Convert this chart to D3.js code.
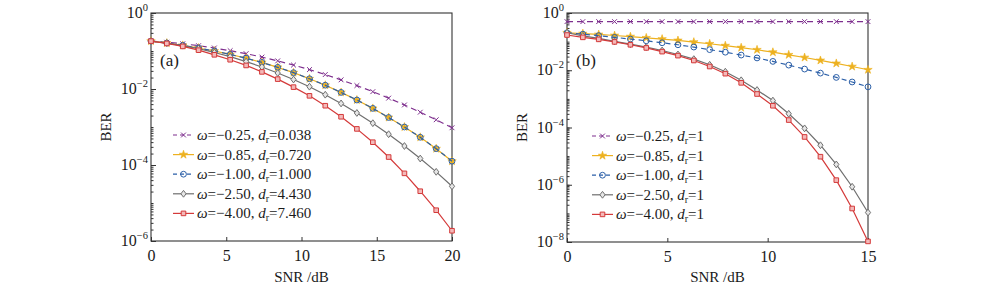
<!DOCTYPE html>
<html>
<head>
<meta charset="utf-8">
<script src="https://cdn.jsdelivr.net/npm/d3@7"></script>
<style>
  body { margin: 0; background: #fff; }
  text { font-family: "Liberation Serif", "Times New Roman", serif; fill: #1a1a1a; }
</style>
</head>
<body>
<script>
// SNR sample points (dB)
const snrA = [0, 1.05, 2.11, 3.16, 4.21, 5.26, 6.32, 7.37, 8.42, 9.47, 10.53, 11.58, 12.63, 13.68, 14.74, 15.79, 16.84, 17.89, 18.95, 20];
const snrB = [0, 0.79, 1.58, 2.37, 3.16, 3.95, 4.74, 5.53, 6.32, 7.11, 7.89, 8.68, 9.47, 10.26, 11.05, 11.84, 12.63, 13.42, 14.21, 15];

// panel (a) BER
const berA1 = [0.182, 0.170, 0.155, 0.138, 0.120, 0.102, 0.0851, 0.0692, 0.0550, 0.0427, 0.0324, 0.0240, 0.0174, 0.0123, 0.00851, 0.00575, 0.00380, 0.00245, 0.00155, 0.000955];
const berA2 = [0.182, 0.162, 0.141, 0.120, 0.100, 0.0813, 0.0646, 0.0501, 0.0372, 0.0269, 0.0186, 0.0126, 0.00813, 0.00513, 0.00309, 0.00178, 0.00100, 0.000537, 0.000269, 0.000126];
const berA3 = [0.182, 0.162, 0.141, 0.120, 0.100, 0.0813, 0.0646, 0.0501, 0.0372, 0.0269, 0.0186, 0.0126, 0.00813, 0.00513, 0.00309, 0.00178, 0.00100, 0.000537, 0.000269, 0.000126];
const berA4 = [0.182, 0.162, 0.138, 0.115, 0.0912, 0.0708, 0.0525, 0.0380, 0.0263, 0.0178, 0.0115, 0.00708, 0.00417, 0.00234, 0.00126, 0.000646, 0.000316, 0.000148, 0.0000661, 0.0000275];
const berA5 = [0.182, 0.158, 0.132, 0.105, 0.0794, 0.0589, 0.0417, 0.0282, 0.0182, 0.0112, 0.00661, 0.00363, 0.00186, 0.000891, 0.000398, 0.000162, 0.0000603, 0.0000204, 0.00000646, 0.00000186];

// panel (b) BER
const berB1 = [0.5, 0.5, 0.5, 0.5, 0.5, 0.5, 0.5, 0.5, 0.5, 0.5, 0.5, 0.5, 0.5, 0.5, 0.5, 0.5, 0.5, 0.5, 0.5, 0.5];
const berB2 = [0.204, 0.191, 0.178, 0.164, 0.150, 0.136, 0.123, 0.110, 0.0966, 0.0841, 0.0724, 0.0617, 0.0519, 0.0427, 0.0347, 0.0279, 0.0221, 0.0174, 0.0135, 0.0104];
const berB3 = [0.204, 0.182, 0.162, 0.141, 0.123, 0.107, 0.0912, 0.0776, 0.0646, 0.0525, 0.0427, 0.0339, 0.0269, 0.0204, 0.0151, 0.0110, 0.00794, 0.00562, 0.00389, 0.00263];
const berB4 = [0.204, 0.158, 0.129, 0.102, 0.0813, 0.0646, 0.0490, 0.0355, 0.0245, 0.0155, 0.00891, 0.00447, 0.00204, 0.000871, 0.000302, 0.0000933, 0.0000240, 0.00000513, 0.000000851, 0.000000107];
const berB5 = [0.170, 0.141, 0.120, 0.0977, 0.0776, 0.0603, 0.0447, 0.0324, 0.0219, 0.0135, 0.00759, 0.00363, 0.00148, 0.000575, 0.000182, 0.0000468, 0.00000955, 0.00000145, 0.000000148, 0.0000000105];

// legend text
const omegaLabels = ["−0.25", "−0.85", "−1.00", "−2.50", "−4.00"];
const drA = ["0.038", "0.720", "1.000", "4.430", "7.460"];
const drB = ["1", "1", "1", "1", "1"];

// ticks
const xTicksA = [0, 5, 10, 15, 20];
const xTicksB = [0, 5, 10, 15];
const yExpA = [0, -2, -4, -6];
const yExpB = [0, -2, -4, -6, -8];

// line / marker styles, same order as the series
var styles = [
  { color: "#7E2F8E", dash: "6,4", marker: "x" },
  { color: "#EDB120", dash: null, marker: "star" },
  { color: "#2B5FA8", dash: "5,4", marker: "circle" },
  { color: "#6f6f6f", dash: null, marker: "diamond" },
  { color: "#D43A3A", dash: null, marker: "square" }
];

var svg = d3.select("body").append("svg")
  .attr("width", 1000)
  .attr("height", 288);

function markerPath(type) {
  if (type == "x") return "M-2.4,-2.4L2.4,2.4M-2.4,2.4L2.4,-2.4";
  if (type == "star") return d3.symbol(d3.symbolStar, 22)();
  if (type == "circle") return "M2.9,0A2.9,2.9 0 1,1 -2.9,0A2.9,2.9 0 1,1 2.9,0Z";
  if (type == "diamond") return "M0,-3.4L2.6,0L0,3.4L-2.6,0Z";
  return "M-2.3,-2.3H2.3V2.3H-2.3Z";
}

function drawMarker(g, st, x, y) {
  var p = g.append("path")
    .attr("d", markerPath(st.marker))
    .attr("transform", "translate(" + x + "," + y + ")")
    .attr("stroke", st.color)
    .attr("stroke-width", 1);
  if (st.marker == "star") p.attr("fill", st.color).attr("stroke-width", 0.6);
  else if (st.marker == "square") p.attr("fill", "#f3b9b9");
  else if (st.marker == "diamond") p.attr("fill", "#e6e6e6");
  else p.attr("fill", "none");
}

function drawPanel(o) {
  var x = d3.scaleLinear().domain(o.xDomain).range([o.left, o.right]);
  var y = d3.scaleLog().domain([Math.pow(10, o.minExp), 1]).range([o.bottom, o.top]);
  var g = svg.append("g");

  // minor log ticks on the left axis
  var minors = [];
  for (var e = o.minExp; e < 0; e++) {
    for (var k = 1; k < 10; k++) minors.push(k * Math.pow(10, e));
  }
  g.append("g")
    .attr("transform", "translate(" + o.left + ",0)")
    .call(d3.axisLeft(y).tickValues(minors).tickSize(-2.5).tickFormat(""))
    .call(s => s.select(".domain").remove())
    .selectAll("line").attr("stroke", "#333");

  // major y ticks with 10^n labels
  var yMaj = g.append("g")
    .attr("transform", "translate(" + o.left + ",0)")
    .call(d3.axisLeft(y).tickValues(o.yExp.map(v => Math.pow(10, v))).tickSize(-5).tickFormat(""));
  yMaj.select(".domain").remove();
  yMaj.selectAll("line").attr("stroke", "#333");
  o.yExp.forEach(function (ex) {
    var t = g.append("text")
      .attr("x", o.left - 3)
      .attr("y", y(Math.pow(10, ex)) + 5)
      .attr("text-anchor", "end")
      .style("font-size", "16px");
    t.append("tspan").text("10");
    t.append("tspan").attr("dy", -7).style("font-size", "10.5px").text(ex == 0 ? "0" : "−" + (-ex));
  });

  // x axis
  var xAx = g.append("g")
    .attr("transform", "translate(0," + o.bottom + ")")
    .call(d3.axisBottom(x).tickValues(o.xTicks).tickSize(-4).tickPadding(9));
  xAx.select(".domain").remove();
  xAx.selectAll("line").attr("stroke", "#333");
  xAx.selectAll("text")
    .style("font-size", "16px")
    .style("font-family", "'Liberation Serif', serif")
    .attr("fill", "#1a1a1a");

  // frame
  g.append("rect")
    .attr("x", o.left).attr("y", o.top)
    .attr("width", o.right - o.left).attr("height", o.bottom - o.top)
    .attr("fill", "none").attr("stroke", "#333").attr("stroke-width", 1.1);

  // curves
  var line = d3.line().x(d => x(d[0])).y(d => y(d[1]));
  o.series.forEach(function (vals, i) {
    var st = styles[i];
    var pts = o.snr.map((s, j) => [s, vals[j]]);
    g.append("path")
      .datum(pts)
      .attr("d", line)
      .attr("fill", "none")
      .attr("stroke", st.color)
      .attr("stroke-width", 1.2)
      .attr("stroke-dasharray", st.dash);
    pts.forEach(function (p) {
      drawMarker(g, st, x(p[0]), y(p[1]));
    });
  });

  // legend
  o.drLabels.forEach(function (dr, i) {
    var st = styles[i];
    var ly = o.legY + i * 19.6;
    g.append("line")
      .attr("x1", o.legX).attr("x2", o.legX + 21)
      .attr("y1", ly).attr("y2", ly)
      .attr("stroke", st.color).attr("stroke-width", 1.2)
      .attr("stroke-dasharray", st.dash ? "4,3" : null);
    drawMarker(g, st, o.legX + 10.5, ly);
    var t = g.append("text")
      .attr("x", o.legX + 24)
      .attr("y", ly + 5)
      .style("font-size", "15px");
    t.append("tspan").style("font-style", "italic").text("ω");
    t.append("tspan").text("=" + omegaLabels[i] + ", ");
    t.append("tspan").style("font-style", "italic").text("d");
    t.append("tspan").attr("dy", 3).style("font-size", "10px").text("r");
    t.append("tspan").attr("dy", -3).text("=" + dr);
  });

  // panel tag
  g.append("text")
    .attr("x", o.left + 9)
    .attr("y", 66)
    .style("font-size", "17px")
    .text(o.tag);

  // axis titles
  g.append("text")
    .attr("transform", "translate(" + (o.left - 40) + "," + ((o.top + o.bottom) / 2) + ") rotate(-90)")
    .attr("text-anchor", "middle")
    .style("font-size", "15px")
    .text("BER");
  g.append("text")
    .attr("x", (o.left + o.right) / 2)
    .attr("y", 282)
    .attr("text-anchor", "middle")
    .style("font-size", "15px")
    .text("SNR /dB");
}

drawPanel({
  left: 151, right: 452, top: 13, bottom: 241,
  xDomain: [0, 20], minExp: -6,
  xTicks: xTicksA, yExp: yExpA,
  snr: snrA,
  series: [berA1, berA2, berA3, berA4, berA5],
  drLabels: drA,
  legX: 173, legY: 135,
  tag: "(a)"
});

drawPanel({
  left: 567, right: 868, top: 13, bottom: 242,
  xDomain: [0, 15], minExp: -8,
  xTicks: xTicksB, yExp: yExpB,
  snr: snrB,
  series: [berB1, berB2, berB3, berB4, berB5],
  drLabels: drB,
  legX: 592, legY: 136,
  tag: "(b)"
});
</script>
</body>
</html>
